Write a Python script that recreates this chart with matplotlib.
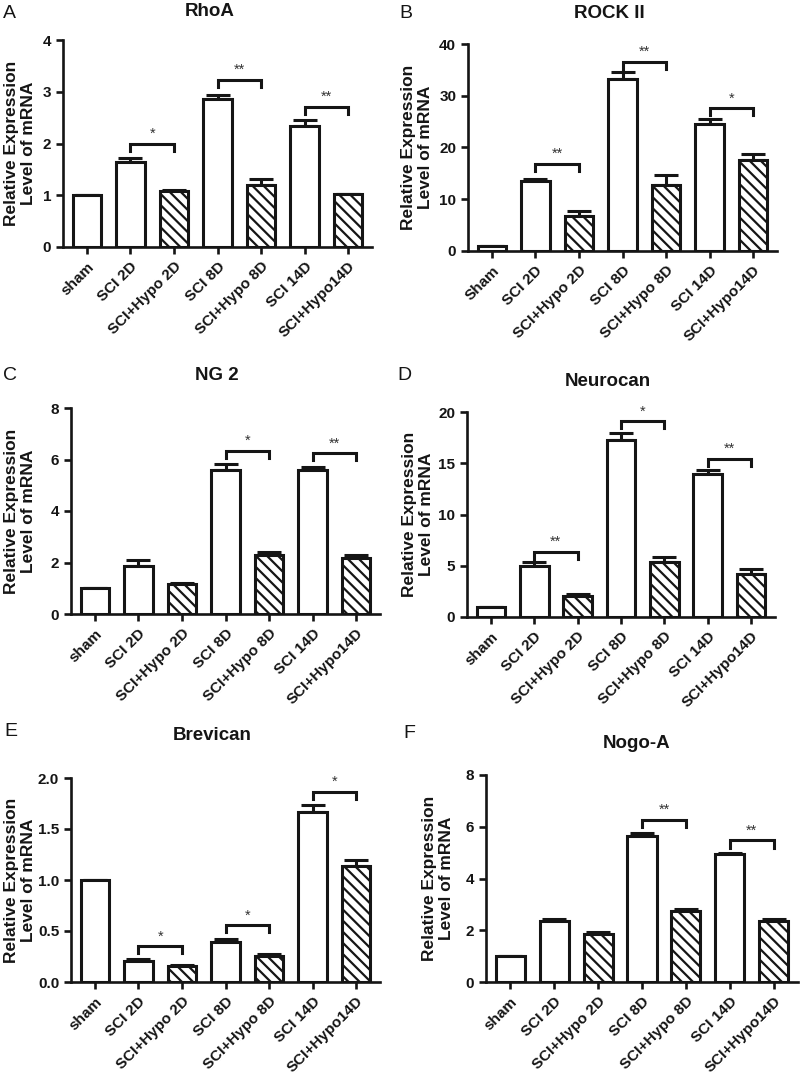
import numpy as np
import matplotlib.pyplot as plt

plt.rcParams['font.family'] = ['Liberation Sans', 'DejaVu Sans']
plt.rcParams['font.weight'] = 'bold'
plt.rcParams['axes.labelweight'] = 'bold'
plt.rcParams['hatch.linewidth'] = 1.6
plt.rcParams['hatch.color'] = '#111111'

# categories
groups = ['sham', 'SCI 2D', 'SCI+Hypo 2D', 'SCI 8D', 'SCI+Hypo 8D', 'SCI 14D', 'SCI+Hypo14D']
groups_b = ['Sham', 'SCI 2D', 'SCI+Hypo 2D', 'SCI 8D', 'SCI+Hypo 8D', 'SCI 14D', 'SCI+Hypo14D']
hatched = [False, False, True, False, True, False, True]

# values (mean, upper SEM)
rhoa = [1.0, 1.65, 1.08, 2.86, 1.20, 2.33, 1.02]
rhoa_err = [0.0, 0.07, 0.02, 0.08, 0.12, 0.12, 0.01]
rock2 = [1.0, 13.6, 6.8, 33.3, 12.8, 24.6, 17.5]
rock2_err = [0.0, 0.4, 0.9, 1.2, 1.9, 0.9, 1.2]
ng2 = [1.0, 1.87, 1.15, 5.58, 2.28, 5.59, 2.18]
ng2_err = [0.0, 0.24, 0.07, 0.25, 0.12, 0.13, 0.10]
neurocan = [1.0, 4.95, 2.08, 17.3, 5.35, 14.0, 4.22]
neurocan_err = [0.0, 0.37, 0.13, 0.65, 0.55, 0.33, 0.45]
brevican = [1.0, 0.21, 0.16, 0.395, 0.255, 1.67, 1.135]
brevican_err = [0.0, 0.02, 0.01, 0.025, 0.015, 0.07, 0.065]
nogoa = [1.0, 2.36, 1.86, 5.65, 2.76, 4.93, 2.35]
nogoa_err = [0.0, 0.09, 0.06, 0.09, 0.08, 0.06, 0.09]

# significance brackets: (left bar, right bar, bracket height, label)
rhoa_sig = [(1, 2, 1.99, '*'), (3, 4, 3.23, '**'), (5, 6, 2.71, '**')]
rock2_sig = [(1, 2, 16.9, '**'), (3, 4, 36.6, '**'), (5, 6, 27.6, '*')]
ng2_sig = [(3, 4, 6.33, '*'), (5, 6, 6.25, '**')]
neurocan_sig = [(1, 2, 6.35, '**'), (3, 4, 19.1, '*'), (5, 6, 15.43, '**')]
brevican_sig = [(1, 2, 0.35, '*'), (3, 4, 0.554, '*'), (5, 6, 1.863, '*')]
nogoa_sig = [(3, 4, 6.27, '**'), (5, 6, 5.47, '**')]

ink = '#151515'
W, H = 800, 1075

panels = [
    # letter, title, labels, means, errs, sig, ymax, ystep, fmt, axes px (l, r, top, bottom), title xy, letter xy, label offset px
    ('A', 'RhoA', groups, rhoa, rhoa_err, rhoa_sig, 4, 1, '%d', (63, 372, 40, 247), (210, 11), (3, 13), 27),
    ('B', 'ROCK II', groups_b, rock2, rock2_err, rock2_sig, 40, 10, '%d', (468, 777, 44, 251), (609, 14), (399, 13), 35),
    ('C', 'NG 2', groups, ng2, ng2_err, ng2_sig, 8, 2, '%d', (71, 380, 408, 614), (217, 376), (3, 376), 35),
    ('D', 'Neurocan', groups, neurocan, neurocan_err, neurocan_sig, 20, 5, '%d', (467, 775, 412, 617), (608, 381), (397, 375), 33),
    ('E', 'Brevican', groups, brevican, brevican_err, brevican_sig, 2.0, 0.5, '%.1f', (71, 380, 778, 982), (212, 736), (4, 731), 35),
    ('F', 'Nogo-A', groups, nogoa, nogoa_err, nogoa_sig, 8, 2, '%d', (486, 798, 775, 982), (637, 744), (403, 733), 32),
]

fig = plt.figure(figsize=(8, 10.75), dpi=100)

for letter, title, labels, means, errs, sig, ymax, ystep, fmt, box, txy, lxy, loff in panels:
    l, r, top, bottom = box
    ax = fig.add_axes([l / W, 1 - bottom / H, (r - l) / W, (bottom - top) / H])
    x = np.arange(len(means))
    for i in x:
        ax.bar(i, means[i], width=0.66, facecolor='white', edgecolor=ink,
               linewidth=2.2, hatch='\\\\\\' if hatched[i] else None, zorder=2)
    ax.errorbar(x, means, yerr=[np.zeros(len(errs)), errs], fmt='none',
                ecolor=ink, elinewidth=2.2, capsize=8.5, capthick=2.2, zorder=1)

    drop = ymax * 0.034
    for a, b, yb, lab in sig:
        ax.plot([a, a, b, b], [yb - drop, yb, yb, yb - drop], color=ink, lw=2.2,
                solid_joinstyle='miter', clip_on=False)
        ax.annotate(lab, ((a + b) / 2, yb), xytext=(0, 2), textcoords='offset points',
                    ha='center', va='bottom', fontsize=10.5, fontweight='normal', color='#333333')

    yt = np.arange(0, ymax + ystep / 2, ystep)
    ax.set_xlim(-0.55, 6.55)
    ax.set_ylim(0, ymax)
    ax.set_yticks(yt)
    ax.set_yticklabels([fmt % v for v in yt], fontweight='bold')
    ax.set_xticks(x)
    ax.set_xticklabels(labels, rotation=45, ha='right', va='top', rotation_mode='anchor',
                       fontweight='bold')
    for s in ['top', 'right']:
        ax.spines[s].set_visible(False)
    for s in ['left', 'bottom']:
        ax.spines[s].set_linewidth(1.9)
        ax.spines[s].set_color(ink)
    ax.tick_params(axis='both', width=1.9, length=5, color=ink, labelsize=11,
                   labelcolor=ink, direction='out')
    ax.tick_params(axis='x', pad=4)
    ax.set_ylabel('Relative Expression\nLevel of mRNA', fontsize=12.5, fontweight='bold',
                  color=ink, linespacing=1.2)
    ax.yaxis.set_label_coords(-loff / (r - l), 0.5)

    fig.text(txy[0] / W, 1 - txy[1] / H, title, ha='center', va='center',
             fontsize=13.5, fontweight='bold', color=ink)
    fig.text(lxy[0] / W, 1 - lxy[1] / H, letter, ha='left', va='center',
             fontsize=14, fontweight='normal', color=ink)

plt.savefig('out.png', dpi=100)
